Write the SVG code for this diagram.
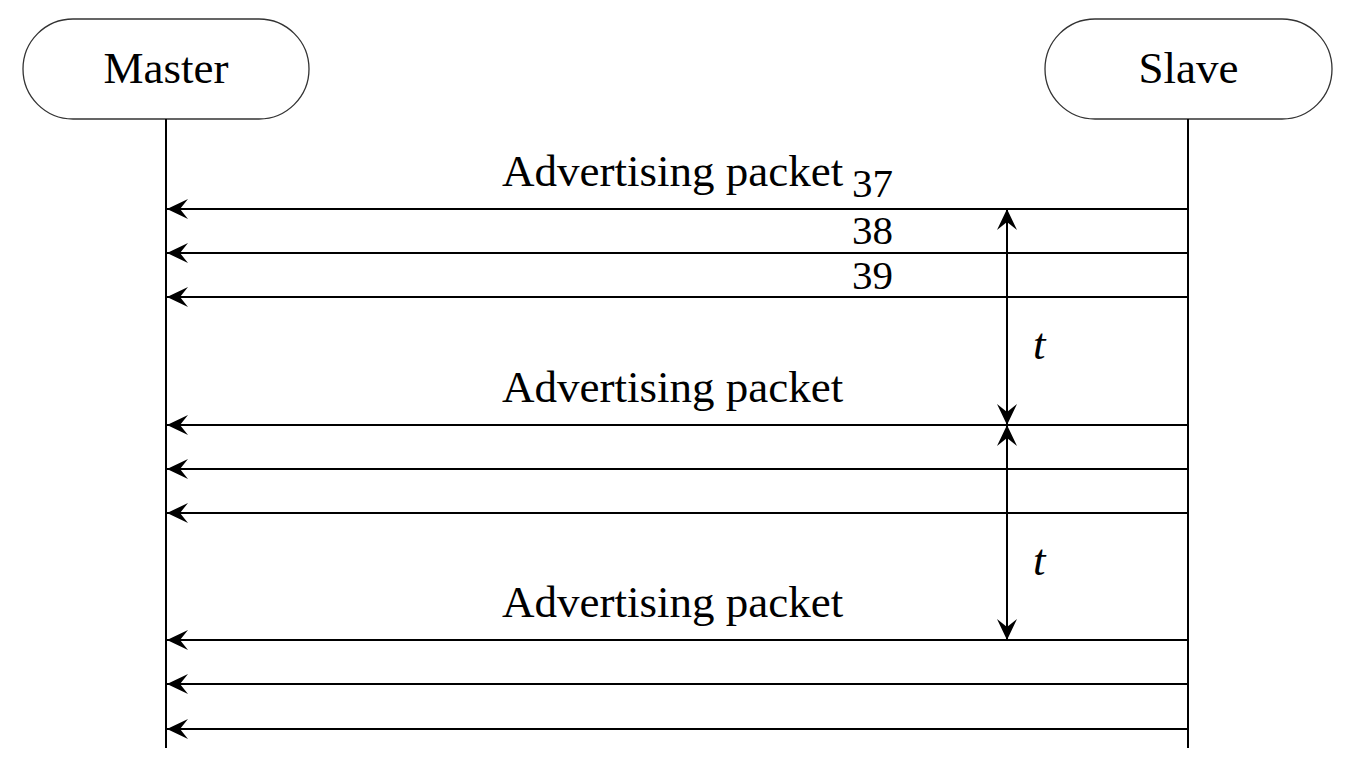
<svg xmlns="http://www.w3.org/2000/svg" width="1349" height="784" viewBox="0 0 1349 784">
<style>
.box{fill:#fff;stroke:#333;stroke-width:1.3}
.life{stroke:#000;stroke-width:2;fill:none}
.msg{stroke:#000;stroke-width:2;fill:none;marker-end:url(#ah)}
.dim{stroke:#000;stroke-width:2;fill:none;marker-start:url(#ah);marker-end:url(#ah)}
.lbl{font-family:"Liberation Serif","Times New Roman",serif;font-size:45px;fill:#000}
.num{font-size:41px}
.it{font-style:italic}
</style>
<defs>
<marker id="ah" markerUnits="userSpaceOnUse" markerWidth="24" markerHeight="22" refX="21" refY="10" orient="auto-start-reverse" overflow="visible">
<path d="M0,0 L21,10 L0,20 L8,10 Z" fill="#000"/>
</marker>
</defs>
<rect width="1349" height="784" fill="#fff"/>
<g id="master">
<rect class="box" x="23" y="19" width="286" height="100" rx="50" ry="50"/>
<text class="lbl" x="166" y="83" text-anchor="middle">Master</text>
<line class="life" x1="166" y1="119" x2="166" y2="748"/>
</g>
<g id="slave">
<rect class="box" x="1045" y="19" width="287" height="100" rx="50" ry="50"/>
<text class="lbl" x="1188.5" y="83" text-anchor="middle">Slave</text>
<line class="life" x1="1188" y1="119" x2="1188" y2="748"/>
</g>
<g id="connectors">
<line class="msg" x1="1188" y1="209" x2="167" y2="209"/>
<line class="msg" x1="1188" y1="253" x2="167" y2="253"/>
<line class="msg" x1="1188" y1="297" x2="167" y2="297"/>
<line class="msg" x1="1188" y1="425" x2="167" y2="425"/>
<line class="msg" x1="1188" y1="469" x2="167" y2="469"/>
<line class="msg" x1="1188" y1="513" x2="167" y2="513"/>
<line class="msg" x1="1188" y1="640" x2="167" y2="640"/>
<line class="msg" x1="1188" y1="684" x2="167" y2="684"/>
<line class="msg" x1="1188" y1="729" x2="167" y2="729"/>
<line class="dim" x1="1007" y1="209" x2="1007" y2="425"/>
<line class="dim" x1="1007" y1="425" x2="1007" y2="640"/>
</g>
<g id="labels">
<text class="lbl" x="502" y="186">Advertising packet</text>
<text class="lbl num" x="852" y="197">37</text>
<text class="lbl num" x="852" y="243.5">38</text>
<text class="lbl num" x="852" y="289">39</text>
<text class="lbl" x="502" y="402">Advertising packet</text>
<text class="lbl" x="502" y="617">Advertising packet</text>
<text class="lbl it" x="1033" y="359">t</text>
<text class="lbl it" x="1033" y="575">t</text>
</g>
</svg>
